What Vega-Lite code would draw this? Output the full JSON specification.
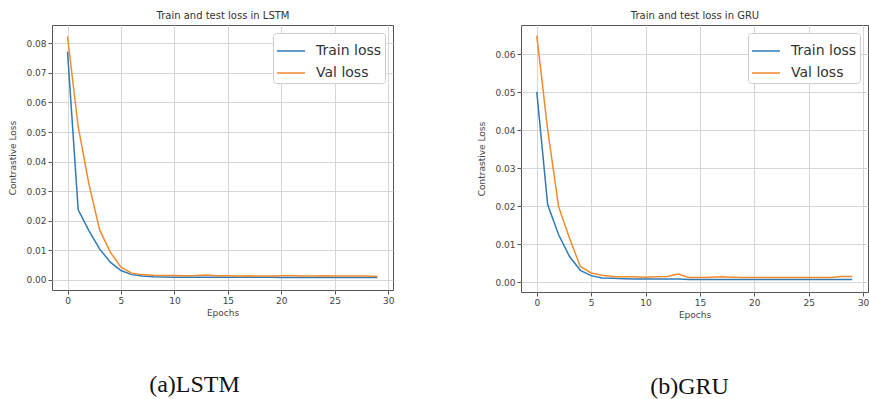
{
  "$schema": "https://vega.github.io/schema/vega-lite/v6.json",
  "background": "white",
  "padding": {"left": 8, "top": 9, "right": 0, "bottom": 0},
  "spacing": 82,
  "config": {
    "view": {"stroke": "#555555", "strokeWidth": 1},
    "axis": {
      "domain": false,
      "grid": true,
      "gridColor": "#d6d6d6",
      "gridWidth": 1,
      "tickColor": "#555555",
      "tickSize": 4,
      "labelFont": "DejaVu Sans",
      "labelFontSize": 9,
      "labelColor": "#444444",
      "labelPadding": 2,
      "titleFont": "DejaVu Sans",
      "titleFontSize": 9,
      "titleFontWeight": "normal",
      "titleColor": "#444444"
    },
    "title": {"orient": "bottom", "anchor": "middle", "frame": "group", "font": "Liberation Serif", "fontSize": 24, "fontWeight": "normal", "color": "#111111", "offset": 56},
    "legend": {
      "orient": "top-right",
      "offset": 8,
      "fillColor": "white",
      "strokeColor": "#cccccc",
      "cornerRadius": 3,
      "padding": 3,
      "title": null,
      "labelFont": "DejaVu Sans",
      "labelFontSize": 14,
      "labelColor": "#333333",
      "labelOffset": 10,
      "symbolType": "stroke",
      "symbolSize": 784,
      "symbolStrokeWidth": 1.5,
      "rowPadding": -1
    }
  },
  "datasets": {
    "lstm": [
      {"epoch": 0, "series": "Train loss", "loss": 0.0772},
      {"epoch": 1, "series": "Train loss", "loss": 0.0237},
      {"epoch": 2, "series": "Train loss", "loss": 0.0167},
      {"epoch": 3, "series": "Train loss", "loss": 0.0105},
      {"epoch": 4, "series": "Train loss", "loss": 0.0060},
      {"epoch": 5, "series": "Train loss", "loss": 0.0032},
      {"epoch": 6, "series": "Train loss", "loss": 0.0018},
      {"epoch": 7, "series": "Train loss", "loss": 0.0013},
      {"epoch": 8, "series": "Train loss", "loss": 0.0011},
      {"epoch": 9, "series": "Train loss", "loss": 0.0010},
      {"epoch": 10, "series": "Train loss", "loss": 0.0009},
      {"epoch": 11, "series": "Train loss", "loss": 0.0009},
      {"epoch": 12, "series": "Train loss", "loss": 0.0009},
      {"epoch": 13, "series": "Train loss", "loss": 0.0009},
      {"epoch": 14, "series": "Train loss", "loss": 0.0009},
      {"epoch": 15, "series": "Train loss", "loss": 0.0009},
      {"epoch": 16, "series": "Train loss", "loss": 0.0009},
      {"epoch": 17, "series": "Train loss", "loss": 0.0009},
      {"epoch": 18, "series": "Train loss", "loss": 0.0009},
      {"epoch": 19, "series": "Train loss", "loss": 0.0009},
      {"epoch": 20, "series": "Train loss", "loss": 0.0008},
      {"epoch": 21, "series": "Train loss", "loss": 0.0008},
      {"epoch": 22, "series": "Train loss", "loss": 0.0008},
      {"epoch": 23, "series": "Train loss", "loss": 0.0008},
      {"epoch": 24, "series": "Train loss", "loss": 0.0008},
      {"epoch": 25, "series": "Train loss", "loss": 0.0008},
      {"epoch": 26, "series": "Train loss", "loss": 0.0008},
      {"epoch": 27, "series": "Train loss", "loss": 0.0008},
      {"epoch": 28, "series": "Train loss", "loss": 0.0008},
      {"epoch": 29, "series": "Train loss", "loss": 0.0008},
      {"epoch": 0, "series": "Val loss", "loss": 0.0823},
      {"epoch": 1, "series": "Val loss", "loss": 0.0518},
      {"epoch": 2, "series": "Val loss", "loss": 0.0325},
      {"epoch": 3, "series": "Val loss", "loss": 0.0170},
      {"epoch": 4, "series": "Val loss", "loss": 0.0094},
      {"epoch": 5, "series": "Val loss", "loss": 0.0043},
      {"epoch": 6, "series": "Val loss", "loss": 0.0023},
      {"epoch": 7, "series": "Val loss", "loss": 0.0018},
      {"epoch": 8, "series": "Val loss", "loss": 0.0016},
      {"epoch": 9, "series": "Val loss", "loss": 0.0015},
      {"epoch": 10, "series": "Val loss", "loss": 0.0015},
      {"epoch": 11, "series": "Val loss", "loss": 0.0014},
      {"epoch": 12, "series": "Val loss", "loss": 0.0015},
      {"epoch": 13, "series": "Val loss", "loss": 0.0017},
      {"epoch": 14, "series": "Val loss", "loss": 0.0014},
      {"epoch": 15, "series": "Val loss", "loss": 0.0014},
      {"epoch": 16, "series": "Val loss", "loss": 0.0013},
      {"epoch": 17, "series": "Val loss", "loss": 0.0014},
      {"epoch": 18, "series": "Val loss", "loss": 0.0013},
      {"epoch": 19, "series": "Val loss", "loss": 0.0013},
      {"epoch": 20, "series": "Val loss", "loss": 0.0014},
      {"epoch": 21, "series": "Val loss", "loss": 0.0014},
      {"epoch": 22, "series": "Val loss", "loss": 0.0013},
      {"epoch": 23, "series": "Val loss", "loss": 0.0013},
      {"epoch": 24, "series": "Val loss", "loss": 0.0014},
      {"epoch": 25, "series": "Val loss", "loss": 0.0013},
      {"epoch": 26, "series": "Val loss", "loss": 0.0013},
      {"epoch": 27, "series": "Val loss", "loss": 0.0013},
      {"epoch": 28, "series": "Val loss", "loss": 0.0013},
      {"epoch": 29, "series": "Val loss", "loss": 0.0012}
    ],
    "gru": [
      {"epoch": 0, "series": "Train loss", "loss": 0.0501},
      {"epoch": 1, "series": "Train loss", "loss": 0.0205},
      {"epoch": 2, "series": "Train loss", "loss": 0.0126},
      {"epoch": 3, "series": "Train loss", "loss": 0.0069},
      {"epoch": 4, "series": "Train loss", "loss": 0.0032},
      {"epoch": 5, "series": "Train loss", "loss": 0.0018},
      {"epoch": 6, "series": "Train loss", "loss": 0.0012},
      {"epoch": 7, "series": "Train loss", "loss": 0.0011},
      {"epoch": 8, "series": "Train loss", "loss": 0.0010},
      {"epoch": 9, "series": "Train loss", "loss": 0.0009},
      {"epoch": 10, "series": "Train loss", "loss": 0.0009},
      {"epoch": 11, "series": "Train loss", "loss": 0.0009},
      {"epoch": 12, "series": "Train loss", "loss": 0.0009},
      {"epoch": 13, "series": "Train loss", "loss": 0.0009},
      {"epoch": 14, "series": "Train loss", "loss": 0.0008},
      {"epoch": 15, "series": "Train loss", "loss": 0.0008},
      {"epoch": 16, "series": "Train loss", "loss": 0.0008},
      {"epoch": 17, "series": "Train loss", "loss": 0.0008},
      {"epoch": 18, "series": "Train loss", "loss": 0.0008},
      {"epoch": 19, "series": "Train loss", "loss": 0.0008},
      {"epoch": 20, "series": "Train loss", "loss": 0.0008},
      {"epoch": 21, "series": "Train loss", "loss": 0.0008},
      {"epoch": 22, "series": "Train loss", "loss": 0.0008},
      {"epoch": 23, "series": "Train loss", "loss": 0.0008},
      {"epoch": 24, "series": "Train loss", "loss": 0.0008},
      {"epoch": 25, "series": "Train loss", "loss": 0.0008},
      {"epoch": 26, "series": "Train loss", "loss": 0.0008},
      {"epoch": 27, "series": "Train loss", "loss": 0.0008},
      {"epoch": 28, "series": "Train loss", "loss": 0.0008},
      {"epoch": 29, "series": "Train loss", "loss": 0.0008},
      {"epoch": 0, "series": "Val loss", "loss": 0.0649},
      {"epoch": 1, "series": "Val loss", "loss": 0.0402},
      {"epoch": 2, "series": "Val loss", "loss": 0.0200},
      {"epoch": 3, "series": "Val loss", "loss": 0.0117},
      {"epoch": 4, "series": "Val loss", "loss": 0.0042},
      {"epoch": 5, "series": "Val loss", "loss": 0.0025},
      {"epoch": 6, "series": "Val loss", "loss": 0.0019},
      {"epoch": 7, "series": "Val loss", "loss": 0.0016},
      {"epoch": 8, "series": "Val loss", "loss": 0.0015},
      {"epoch": 9, "series": "Val loss", "loss": 0.0015},
      {"epoch": 10, "series": "Val loss", "loss": 0.0014},
      {"epoch": 11, "series": "Val loss", "loss": 0.0015},
      {"epoch": 12, "series": "Val loss", "loss": 0.0016},
      {"epoch": 13, "series": "Val loss", "loss": 0.0022},
      {"epoch": 14, "series": "Val loss", "loss": 0.0013},
      {"epoch": 15, "series": "Val loss", "loss": 0.0013},
      {"epoch": 16, "series": "Val loss", "loss": 0.0014},
      {"epoch": 17, "series": "Val loss", "loss": 0.0015},
      {"epoch": 18, "series": "Val loss", "loss": 0.0014},
      {"epoch": 19, "series": "Val loss", "loss": 0.0013},
      {"epoch": 20, "series": "Val loss", "loss": 0.0013},
      {"epoch": 21, "series": "Val loss", "loss": 0.0013},
      {"epoch": 22, "series": "Val loss", "loss": 0.0013},
      {"epoch": 23, "series": "Val loss", "loss": 0.0013},
      {"epoch": 24, "series": "Val loss", "loss": 0.0013},
      {"epoch": 25, "series": "Val loss", "loss": 0.0013},
      {"epoch": 26, "series": "Val loss", "loss": 0.0013},
      {"epoch": 27, "series": "Val loss", "loss": 0.0013},
      {"epoch": 28, "series": "Val loss", "loss": 0.0016},
      {"epoch": 29, "series": "Val loss", "loss": 0.0016}
    ]
  },
  "resolve": {"scale": {"x": "independent", "y": "independent", "color": "independent"}, "legend": {"color": "independent"}},
  "hconcat": [
    {
      "title": {"text": "(a)LSTM", "dx": -28},
      "width": 341,
      "height": 265,
      "data": {"name": "lstm"},
      "resolve": {"axis": {"x": "independent"}},
      "layer": [
        {
          "mark": {"type": "line", "strokeWidth": 1.5, "clip": true},
          "encoding": {
            "x": {"field": "epoch", "type": "quantitative", "title": "Epochs",
                  "scale": {"domain": [-1.45, 30.45], "nice": false, "zero": false},
                  "axis": {"values": [0, 5, 10, 15, 20, 25, 30], "titlePadding": 3}},
            "y": {"field": "loss", "type": "quantitative", "title": "Contrastive Loss",
                  "scale": {"domain": [-0.0034, 0.0862], "nice": false, "zero": false},
                  "axis": {"values": [0, 0.01, 0.02, 0.03, 0.04, 0.05, 0.06, 0.07, 0.08], "format": ".2f", "titlePadding": 8}},
            "color": {"field": "series", "type": "nominal",
                      "scale": {"domain": ["Train loss", "Val loss"], "range": ["#2f7bb6", "#f28a2e"]},
                      "legend": {"orient": "top-right"}}
          }
        },
        {
          "mark": {"type": "point", "opacity": 0},
          "encoding": {
            "x": {"field": "epoch", "type": "quantitative", "title": "Train and test loss in LSTM",
                  "axis": {"orient": "top", "labels": false, "ticks": false, "grid": false, "domain": false,
                           "titleFontSize": 10, "titleColor": "#333333", "titlePadding": 5}}
          }
        }
      ]
    },
    {
      "title": {"text": "(b)GRU", "dx": -5},
      "width": 347,
      "height": 267,
      "data": {"name": "gru"},
      "resolve": {"axis": {"x": "independent"}},
      "layer": [
        {
          "mark": {"type": "line", "strokeWidth": 1.5, "clip": true},
          "encoding": {
            "x": {"field": "epoch", "type": "quantitative", "title": "Epochs",
                  "scale": {"domain": [-1.45, 30.45], "nice": false, "zero": false},
                  "axis": {"values": [0, 5, 10, 15, 20, 25, 30], "titlePadding": 3}},
            "y": {"field": "loss", "type": "quantitative", "title": "Contrastive Loss",
                  "scale": {"domain": [-0.0025, 0.0677], "nice": false, "zero": false},
                  "axis": {"values": [0, 0.01, 0.02, 0.03, 0.04, 0.05, 0.06], "format": ".2f", "titlePadding": 8}},
            "color": {"field": "series", "type": "nominal",
                      "scale": {"domain": ["Train loss", "Val loss"], "range": ["#2f7bb6", "#f28a2e"]},
                      "legend": {"orient": "top-right"}}
          }
        },
        {
          "mark": {"type": "point", "opacity": 0},
          "encoding": {
            "x": {"field": "epoch", "type": "quantitative", "title": "Train and test loss in GRU",
                  "axis": {"orient": "top", "labels": false, "ticks": false, "grid": false, "domain": false,
                           "titleFontSize": 10, "titleColor": "#333333", "titlePadding": 5}}
          }
        }
      ]
    }
  ]
}
